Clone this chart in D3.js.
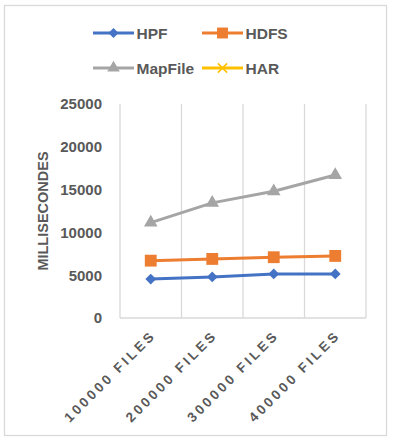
<!DOCTYPE html>
<html><head><meta charset="utf-8">
<script src="https://cdn.jsdelivr.net/npm/d3@7"></script>
<style>body{margin:0;background:#fff}svg{display:block}text{font-family:"Liberation Sans",Arial,sans-serif;font-weight:bold;fill:#595959}</style>
</head><body>
<svg id="c" width="394" height="443"></svg>
<script>
const categories = ["100000 FILES","200000 FILES","300000 FILES","400000 FILES"];
const hpf = [4550, 4800, 5150, 5150];
const hdfs = [6700, 6900, 7100, 7250];
const mapfile = [11150, 13450, 14800, 16700];
const har = [null, null, null, null];
const yTicks = [0, 5000, 10000, 15000, 20000, 25000];
const seriesNames = ["HPF","HDFS","MapFile","HAR"];
const seriesColors = ["#4472C4","#ED7D31","#A5A5A5","#FFC000"];
const seriesMarkers = ["diamond","square","triangle","x"];
const seriesValues = [hpf, hdfs, mapfile, har];

const svg = d3.select("#c");
svg.append("rect").attr("x",4.5).attr("y",5.5).attr("width",382).attr("height",430)
  .attr("fill","#fff").attr("stroke","#d9d9d9").attr("stroke-width",1.3);

const x = d3.scaleBand().domain(categories).range([120,366]).padding(0);
const y = d3.scaleLinear().domain([0,25000]).range([318,104]);

// vertical category gridlines
const bounds = categories.map(c=>x(c)).concat([x.range()[1]]);
svg.append("g").selectAll("line").data(bounds).join("line")
  .attr("x1",d=>d).attr("x2",d=>d).attr("y1",y(25000)).attr("y2",y(0))
  .attr("stroke","#d9d9d9").attr("stroke-width",1.3);
// bottom axis line
svg.append("line").attr("x1",x.range()[0]).attr("x2",x.range()[1]).attr("y1",y(0)).attr("y2",y(0))
  .attr("stroke","#d9d9d9").attr("stroke-width",1.3);

// y axis labels
const yAxis = d3.axisLeft(y).tickValues(yTicks).tickSize(0).tickPadding(0).tickFormat(d3.format("d"));
const ga = svg.append("g").attr("transform","translate(102,0)").call(yAxis);
ga.select(".domain").remove();
ga.selectAll("text").style("font-size","15px").attr("fill","#595959").style("font-family","'Liberation Sans',Arial,sans-serif").style("font-weight","bold");

// y title
svg.append("text").attr("transform","translate(44,211) rotate(-90)").attr("text-anchor","middle")
  .attr("dominant-baseline","middle").style("font-size","14.5px").text("MILLISECONDES");

// x labels
const xa = d3.axisBottom(x).tickSize(0).tickPadding(0);
const gx = svg.append("g").attr("transform",`translate(0,${y(0)})`).call(xa);
gx.select(".domain").remove();
gx.selectAll("text").attr("text-anchor","end").attr("dy",null).attr("y",0)
  .attr("transform","translate(6,18) rotate(-45)")
  .style("font-size","13.5px").style("letter-spacing","3px")
  .attr("fill","#595959").style("font-family","'Liberation Sans',Arial,sans-serif").style("font-weight","bold");

function markerPath(type, scale){
  if(type==="diamond") return d3.symbol(d3.symbolSquare, 58*scale)();
  if(type==="square") return d3.symbol(d3.symbolSquare, 140*scale)();
  if(type==="triangle") return d3.symbol(d3.symbolTriangle, 80*scale)();
  const s = 5*Math.sqrt(scale);
  return `M${-s},${-s}L${s},${s}M${-s},${s}L${s},${-s}`;
}

const line = d3.line().defined(d=>d.v!=null).x(d=>x(d.c)+x.bandwidth()/2).y(d=>y(d.v));
seriesNames.forEach((name,i)=>{
  const data = categories.map((c,j)=>({c, v: seriesValues[i][j]}));
  const g = svg.append("g");
  g.append("path").datum(data).attr("d",line).attr("fill","none")
    .attr("stroke",seriesColors[i]).attr("stroke-width",3).attr("stroke-linejoin","round");
  g.selectAll("path.m").data(data.filter(d=>d.v!=null)).join("path").attr("class","m")
    .attr("d",markerPath(seriesMarkers[i],1))
    .attr("transform",d=>`translate(${x(d.c)+x.bandwidth()/2},${y(d.v)})`+(seriesMarkers[i]==="diamond"?" rotate(45)":""))
    .attr("fill",seriesMarkers[i]==="x"?"none":seriesColors[i])
    .attr("stroke",seriesColors[i]).attr("stroke-width",seriesMarkers[i]==="x"?1.5:0);
});

// legend
const legPos = [[93,33],[202,33],[93,68],[202,68]];
seriesNames.forEach((name,i)=>{
  const [lx,ly] = legPos[i];
  const g = svg.append("g").attr("transform",`translate(${lx},${ly})`);
  g.append("line").attr("x1",0).attr("x2",41).attr("y1",0).attr("y2",0)
    .attr("stroke",seriesColors[i]).attr("stroke-width",3);
  g.append("path").attr("d",markerPath(seriesMarkers[i],0.85))
    .attr("transform","translate(20.5,0)"+(seriesMarkers[i]==="diamond"?" rotate(45)":""))
    .attr("fill",seriesMarkers[i]==="x"?"none":seriesColors[i])
    .attr("stroke",seriesColors[i]).attr("stroke-width",seriesMarkers[i]==="x"?1.5:0);
  g.append("text").attr("x",43.5).attr("y",0).attr("dominant-baseline","central")
    .style("font-size","15.5px").text(name);
});
</script>
</body></html>
